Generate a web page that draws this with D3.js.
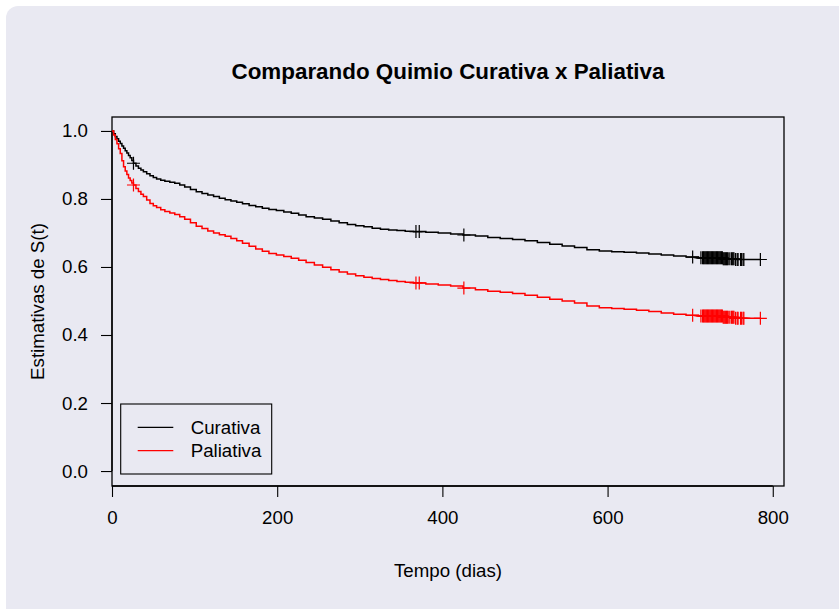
<!DOCTYPE html>
<html><head><meta charset="utf-8">
<script src="https://cdn.jsdelivr.net/npm/d3@7"></script>
<style>body{margin:0;background:#fff}svg{display:block}text{font-family:"Liberation Sans",Arial,sans-serif;fill:#000}</style>
</head><body><svg id="c" width="839" height="609"></svg>
<script>
const title = "Comparando Quimio Curativa x Paliativa";
const xLabel = "Tempo (dias)";
const yLabel = "Estimativas de S(t)";
const seriesNames = ["Curativa", "Paliativa"];
const seriesColors = ["#000000", "#ff0000"];
const xTicks = [0, 200, 400, 600, 800];
const yTicks = [0.0, 0.2, 0.4, 0.6, 0.8, 1.0];

const curTime = [0,2,4,6,8,10,12,14,16,18,20,22,24,26,29,32,35,38,42,46,50,54,59,64,70,76,82,88,95,102,109,116,123,130,137,144,151,158,166,174,182,190,199,208,217,226,235,245,255,265,275,285,295,305,315,325,335,345,355,365,380,395,410,425,440,455,470,485,500,515,530,545,560,575,590,605,620,635,650,665,680,695,710,740,755];
const curSurv = [1.000,0.992,0.984,0.977,0.970,0.963,0.956,0.949,0.942,0.935,0.928,0.921,0.913,0.905,0.897,0.890,0.885,0.880,0.874,0.868,0.863,0.859,0.855,0.852,0.849,0.846,0.841,0.835,0.828,0.821,0.816,0.812,0.807,0.802,0.798,0.794,0.790,0.786,0.781,0.777,0.773,0.769,0.766,0.762,0.758,0.753,0.748,0.744,0.740,0.735,0.730,0.725,0.721,0.718,0.714,0.711,0.709,0.707,0.705,0.704,0.702,0.700,0.697,0.694,0.691,0.687,0.684,0.681,0.677,0.672,0.667,0.662,0.657,0.651,0.647,0.645,0.643,0.641,0.638,0.635,0.632,0.629,0.627,0.624,0.622];

const palTime = curTime;
const palSurv = [1.000,0.988,0.975,0.962,0.948,0.934,0.912,0.895,0.882,0.872,0.862,0.854,0.847,0.841,0.831,0.822,0.814,0.807,0.797,0.787,0.780,0.775,0.768,0.763,0.759,0.754,0.748,0.740,0.730,0.720,0.713,0.706,0.700,0.695,0.690,0.684,0.677,0.670,0.661,0.653,0.646,0.640,0.635,0.631,0.626,0.620,0.613,0.606,0.599,0.592,0.585,0.579,0.574,0.570,0.566,0.563,0.560,0.557,0.555,0.553,0.550,0.547,0.544,0.538,0.533,0.529,0.526,0.522,0.517,0.511,0.505,0.500,0.494,0.485,0.480,0.478,0.476,0.473,0.469,0.465,0.461,0.458,0.456,0.452,0.449];

const censorTimes = [26,368,372,426,703,713,715,716,717,718,719,720,721,722,723,724,725,726,727,728,729,730,731,732,733,734,735,736,737,738,739,740,741,742,743,744,745,746,748,750,751,752,753,755,757,758,761,762,764,765,785];
const lastTime = 785;

const svg = d3.select("#c");
svg.append("rect").attr("x",6).attr("y",6).attr("width",860).attr("height",640).attr("rx",12).attr("fill","#e9e9f2");

const L=112,R=784,T=117,B=486;
const x = d3.scaleLinear().domain([0,813.6]).range([L,R]);
const y = d3.scaleLinear().domain([-0.044,1.041]).range([B,T]);

svg.append("rect").attr("x",L).attr("y",T).attr("width",R-L).attr("height",B-T).attr("fill","none").attr("stroke","#000").attr("stroke-width",1.3);

const xa = svg.append("g").attr("transform",`translate(0,${B})`).call(d3.axisBottom(x).tickValues(xTicks).tickFormat(d3.format("d")).tickSize(11).tickPadding(14));
const ya = svg.append("g").attr("transform",`translate(${L},0)`).call(d3.axisLeft(y).tickValues(yTicks).tickFormat(d3.format(".1f")).tickSize(11).tickPadding(13));
[xa,ya].forEach(a=>{a.select(".domain").attr("stroke","#000").attr("stroke-width",1.3);a.selectAll(".tick line").attr("stroke","#000").attr("stroke-width",1.1);a.selectAll("text").attr("font-size",18.7).attr("font-family",'"Liberation Sans",Arial,sans-serif').attr("fill","#000");});
xa.select(".domain").attr("d",`M${x(0)},0H${x(800)}`);
ya.select(".domain").attr("d",`M0,${y(0)}V${y(1)}`);

svg.append("text").attr("x",(L+R)/2).attr("y",79).attr("text-anchor","middle").attr("font-size",22.4).attr("font-weight","bold").text(title);
svg.append("text").attr("x",(L+R)/2).attr("y",577).attr("text-anchor","middle").attr("font-size",18.7).text(xLabel);
svg.append("text").attr("transform",`translate(44,${(T+B)/2}) rotate(-90)`).attr("text-anchor","middle").attr("font-size",18.7).text(yLabel);

const series = [{t:curTime,s:curSurv},{t:palTime,s:palSurv}];
const line = d3.line().x(d=>x(d[0])).y(d=>y(d[1])).curve(d3.curveStepAfter);
series.forEach((sr,i)=>{
  const pts = sr.t.map((t,j)=>[t,sr.s[j]]);
  pts.push([lastTime, sr.s[sr.s.length-1]]);
  svg.append("path").datum(pts).attr("d",line).attr("fill","none").attr("stroke",seriesColors[i]).attr("stroke-width",1.5);
  const g = svg.append("g").attr("stroke",seriesColors[i]).attr("stroke-width",1.2);
  censorTimes.forEach(ct=>{
    const k = d3.bisectRight(sr.t, ct)-1;
    const sv = sr.s[Math.max(0,k)];
    const cx = x(ct), cy = y(sv);
    g.append("path").attr("d",`M${cx-6.5},${cy}H${cx+6.5}M${cx},${cy-6.5}V${cy+6.5}`);
  });
});

const lg = svg.append("g");
lg.append("rect").attr("x",120.7).attr("y",404).attr("width",151).attr("height",70).attr("fill","none").attr("stroke","#000").attr("stroke-width",1.1);
seriesNames.forEach((n,i)=>{
  const ly = 427.3 + i*23.4;
  lg.append("line").attr("x1",137.7).attr("x2",173.3).attr("y1",ly).attr("y2",ly).attr("stroke",seriesColors[i]).attr("stroke-width",1.3);
  lg.append("text").attr("x",190.7).attr("y",ly).attr("dy","0.35em").attr("font-size",18.7).text(n);
});
</script></body></html>
